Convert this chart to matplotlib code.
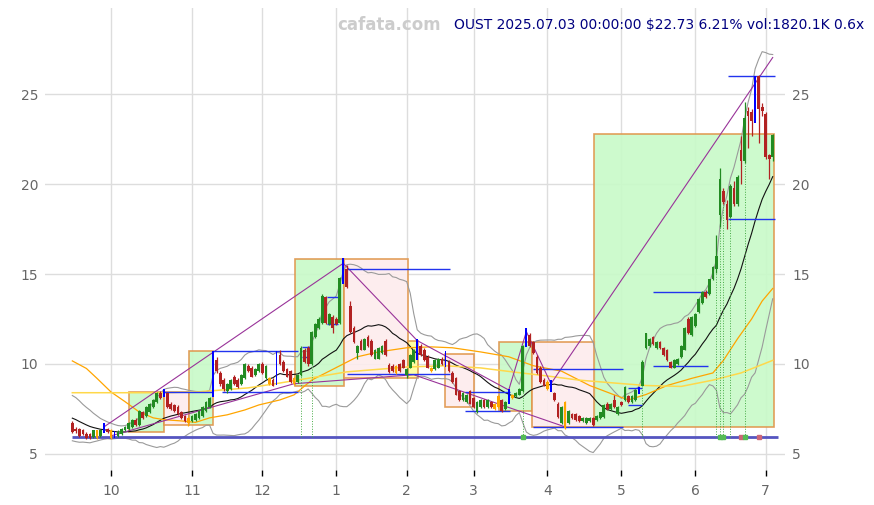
import numpy as np
import pandas as pd
import matplotlib
matplotlib.use("Agg")
import matplotlib.pyplot as plt
from matplotlib.patches import Rectangle

# OUST daily candles, trading days 2024-09-16 .. 2025-07-03 (index 0..199)
opens = [6.70, 6.40, 6.40, 6.30, 6.10, 6.10, 5.95, 5.90, 6.00, 6.20,
         6.40, 6.30, 5.95, 6.00, 6.10, 6.30, 6.40, 6.50, 6.90, 6.60,
         7.30, 7.10, 7.30, 7.60, 7.90, 8.40, 8.20, 8.40, 7.80, 7.70,
         7.60, 7.30, 7.10, 6.70, 6.80, 6.90, 7.00, 7.10, 7.40, 7.60,
         8.20, 10.20, 9.50, 9.10, 8.50, 8.60, 9.30, 9.10, 8.90, 9.20,
         9.90, 9.80, 9.40, 9.60, 10.00, 9.20, 8.90, 9.10, 8.90, 10.50,
         10.10, 9.70, 9.60, 9.20, 9.00, 9.40, 10.80, 10.90, 10.00, 11.50,
         12.00, 12.30, 13.70, 12.20, 12.60, 12.50, 12.30, 14.50, 15.30, 13.20,
         12.00, 10.60, 11.30, 10.80, 11.50, 11.30, 10.30, 10.30, 10.60, 11.30,
         9.95, 9.90, 9.50, 10.00, 10.20, 9.40, 9.80, 10.10, 10.50, 11.00,
         10.80, 10.40, 9.80, 9.70, 9.80, 10.30, 9.90, 10.10, 9.50, 9.20,
         8.50, 8.00, 7.90, 8.50, 8.10, 7.30, 7.60, 8.00, 7.60, 7.90,
         7.50, 7.60, 8.00, 7.50, 7.80, 8.10, 8.20, 8.30, 8.50, 11.00,
         11.60, 11.20, 10.40, 9.80, 9.10, 9.00, 9.00, 8.40, 7.80, 6.70,
         7.90, 6.70, 7.20, 7.20, 7.10, 6.80, 6.70, 6.80, 7.00, 6.90,
         7.00, 7.05, 7.80, 7.50, 8.00, 7.20, 7.90, 8.00, 8.20, 7.90,
         8.00, 8.40, 8.80, 10.90, 11.00, 11.50, 10.90, 11.20, 10.90, 10.80,
         10.10, 9.80, 10.00, 10.40, 10.80, 12.50, 11.60, 12.10, 12.90, 13.40,
         14.00, 13.90, 14.70, 15.30, 18.30, 19.60, 18.90, 18.20, 19.80, 18.90,
         21.90, 21.30, 24.10, 24.00, 23.70, 26.00, 24.30, 23.90, 21.60, 21.50]
highs = [6.85, 6.50, 6.45, 6.40, 6.20, 6.15, 6.35, 6.35, 6.40, 6.70,
         6.45, 6.40, 6.25, 6.30, 6.45, 6.55, 6.75, 6.95, 7.00, 7.45,
         7.40, 7.65, 7.85, 8.05, 8.45, 8.50, 8.60, 8.45, 7.90, 7.80,
         7.70, 7.40, 7.15, 7.05, 7.15, 7.25, 7.45, 7.65, 7.95, 8.15,
         10.70, 10.40, 9.60, 9.20, 8.95, 9.15, 9.40, 9.20, 9.45, 10.05,
         10.00, 9.90, 9.75, 10.05, 10.10, 9.95, 9.25, 9.20, 10.70, 10.80,
         10.20, 9.80, 9.65, 9.25, 9.45, 11.00, 10.90, 11.00, 11.85, 12.30,
         12.60, 13.90, 13.80, 12.85, 12.70, 12.60, 14.85, 15.90, 15.50, 13.50,
         12.10, 11.05, 11.40, 11.45, 11.60, 11.40, 10.85, 10.95, 11.05, 11.40,
         10.05, 10.00, 9.95, 10.05, 10.30, 9.75, 10.55, 10.85, 11.40, 11.10,
         10.90, 10.50, 9.85, 10.25, 10.35, 10.40, 10.70, 10.20, 9.60, 9.25,
         8.55, 8.45, 8.35, 8.55, 8.15, 7.95, 8.05, 8.05, 8.05, 7.95,
         7.85, 8.25, 8.05, 7.95, 8.60, 8.35, 8.45, 8.65, 11.05, 12.00,
         11.70, 11.30, 10.50, 9.90, 9.20, 9.10, 9.10, 8.45, 7.90, 7.65,
         7.95, 7.45, 7.25, 7.25, 7.15, 7.05, 7.05, 7.05, 7.05, 7.15,
         7.35, 7.75, 7.90, 7.85, 8.30, 7.65, 7.95, 8.75, 8.25, 8.25,
         8.60, 8.70, 10.20, 11.75, 11.45, 11.55, 11.25, 11.25, 10.95, 10.85,
         10.15, 10.25, 10.35, 11.05, 12.05, 12.60, 12.65, 12.85, 13.65, 14.05,
         14.10, 14.75, 15.45, 17.20, 20.90, 19.80, 19.10, 20.00, 20.20, 20.50,
         22.70, 24.60, 24.30, 24.20, 26.00, 26.10, 24.50, 24.00, 21.70, 22.80]
lows = [6.15, 6.15, 5.95, 6.05, 5.85, 5.85, 5.90, 5.85, 5.95, 6.15,
        6.15, 5.85, 5.90, 5.95, 6.05, 6.25, 6.35, 6.45, 6.55, 6.55,
        6.95, 7.05, 7.25, 7.55, 7.85, 8.05, 8.15, 7.55, 7.45, 7.35,
        7.15, 6.95, 6.75, 6.55, 6.75, 6.85, 6.95, 7.05, 7.35, 7.55,
        8.15, 9.50, 8.80, 8.50, 8.40, 8.55, 8.85, 8.65, 8.85, 9.15,
        9.55, 9.25, 9.35, 9.55, 9.45, 9.15, 8.85, 8.75, 8.85, 9.95,
        9.55, 9.25, 8.95, 8.85, 8.95, 9.35, 10.05, 9.90, 9.95, 11.45,
        11.95, 12.25, 12.25, 12.15, 11.70, 12.15, 12.25, 14.45, 14.25, 11.75,
        11.15, 10.30, 10.75, 10.75, 10.95, 10.45, 10.25, 10.25, 10.55, 10.45,
        9.50, 9.55, 9.45, 9.55, 9.75, 9.20, 9.75, 10.05, 10.20, 10.45,
        10.15, 9.75, 9.55, 9.65, 9.75, 9.95, 9.85, 9.55, 8.95, 8.25,
        7.95, 7.95, 7.85, 7.75, 7.55, 7.25, 7.55, 7.55, 7.55, 7.55,
        7.45, 7.55, 7.35, 7.45, 7.75, 8.05, 8.15, 8.25, 8.45, 10.95,
        10.95, 10.55, 9.45, 8.95, 8.75, 8.55, 8.45, 7.95, 7.00, 6.65,
        6.40, 6.65, 6.95, 6.85, 6.75, 6.75, 6.65, 6.75, 6.55, 6.85,
        6.95, 7.00, 7.45, 7.45, 7.55, 7.15, 7.65, 7.95, 7.85, 7.85,
        7.95, 8.35, 8.75, 10.85, 10.95, 11.05, 10.85, 10.85, 10.45, 10.15,
        9.75, 9.75, 9.95, 10.35, 10.75, 11.65, 11.55, 12.05, 12.85, 13.35,
        13.65, 13.85, 14.65, 15.05, 17.60, 18.90, 17.50, 18.10, 18.80, 18.80,
        20.00, 21.20, 22.00, 22.70, 23.40, 22.30, 23.80, 21.40, 20.30, 21.30]
closes = [6.20, 6.25, 6.00, 6.10, 5.90, 5.90, 6.30, 6.30, 6.30, 6.50,
          6.20, 5.90, 6.20, 6.20, 6.40, 6.50, 6.70, 6.90, 6.60, 7.40,
          7.00, 7.60, 7.80, 8.00, 8.40, 8.10, 8.55, 7.60, 7.50, 7.40,
          7.20, 7.00, 6.80, 7.00, 7.10, 7.20, 7.40, 7.60, 7.90, 8.10,
          10.60, 9.60, 8.90, 8.60, 8.90, 9.10, 8.90, 8.70, 9.40, 10.00,
          9.60, 9.30, 9.70, 10.00, 9.50, 9.90, 9.20, 8.80, 10.60, 10.00,
          9.60, 9.30, 9.00, 8.90, 9.40, 10.90, 10.10, 10.00, 11.80, 12.20,
          12.50, 13.80, 12.30, 12.80, 12.00, 12.20, 14.80, 15.60, 14.30, 11.80,
          11.20, 11.00, 10.80, 11.40, 11.00, 10.50, 10.80, 10.90, 11.00, 10.50,
          9.55, 9.60, 9.90, 9.60, 9.80, 9.70, 10.50, 10.80, 11.30, 10.50,
          10.20, 9.80, 9.60, 10.20, 10.30, 10.00, 10.40, 9.60, 9.00, 8.30,
          8.00, 8.40, 8.30, 7.80, 7.60, 7.90, 8.00, 7.60, 8.00, 7.60,
          7.80, 8.20, 7.40, 7.90, 8.55, 8.30, 8.40, 8.60, 11.00, 11.80,
          11.00, 10.60, 9.50, 9.00, 8.80, 8.60, 8.50, 8.00, 7.05, 7.60,
          6.45, 7.40, 7.00, 6.90, 6.80, 7.00, 7.00, 7.00, 6.60, 7.10,
          7.30, 7.70, 7.50, 7.80, 7.60, 7.60, 7.70, 8.70, 7.90, 8.20,
          8.55, 8.60, 10.10, 11.70, 11.40, 11.10, 11.20, 10.90, 10.50, 10.20,
          9.80, 10.20, 10.30, 11.00, 12.00, 11.70, 12.60, 12.80, 13.60, 14.00,
          13.70, 14.70, 15.40, 16.00, 20.30, 19.00, 18.00, 19.90, 18.90, 20.40,
          21.30, 23.70, 23.80, 23.50, 25.90, 24.20, 24.10, 21.50, 21.40, 22.73]
# 19 sessions before the first candle (needed for the 20-day band at the left edge)
hist_closes = [7.9, 8.1, 8.0, 7.8, 7.6, 7.5, 7.3, 7.2, 7.0, 6.9,
               6.8, 6.7, 6.6, 6.5, 6.4, 6.3, 6.4, 6.3, 6.2]

blue_idx = [9, 12, 26, 40, 58, 77, 98, 106, 124, 129, 136, 161, 194]
orange_idx = [7, 11, 33, 56, 63, 92, 102, 120, 121, 125, 135, 140]

month_pos = [11, 34, 54, 75, 95, 114, 135, 156, 177, 197]
month_lbl = ['10', '11', '12', '1', '2', '3', '4', '5', '6', '7']

# 50 and 200 day averages
ma50_x = [0, 4, 7, 11, 15, 19, 23, 26, 31, 35, 39, 44, 49, 53, 59, 63, 68, 75, 81, 87,
          95, 102, 108, 116, 124, 131, 139, 147, 154, 158, 163, 169, 176, 182, 185, 189,
          193, 196, 199]
ma50_y = [10.17, 9.75, 9.2, 8.44, 7.9, 7.33, 7.0, 6.9, 6.83, 6.75, 7.0, 7.17, 7.44, 7.72,
          8.0, 8.28, 9.1, 9.8, 10.4, 10.67, 10.9, 10.95, 10.9, 10.67, 10.4, 9.9, 9.6, 8.8,
          8.28, 8.0, 8.3, 8.8, 9.2, 9.5, 10.2, 11.4, 12.5, 13.5, 14.2]
ma200_x = [0, 26, 36, 50, 59, 78, 95, 106, 116, 125, 135, 144, 154, 163, 173, 182, 190, 199]
ma200_y = [8.4, 8.4, 8.45, 8.67, 8.94, 9.56, 9.83, 9.9, 9.78, 9.56, 9.33, 9.1, 8.94, 8.8,
           8.75, 9.1, 9.5, 10.2]

# boxes
box_x0 = [16.1, 26.1, 33.2, 63.3, 77.2, 95.3, 106.0, 121.2, 130.6, 148.3]
box_x1 = [26.1, 33.2, 40.1, 77.2, 95.3, 98.2, 114.1, 130.6, 148.5, 199.3]
box_lo = [6.2, 6.6, 6.6, 8.8, 9.2, 9.2, 7.6, 7.4, 6.5, 6.5]
box_hi = [8.46, 8.46, 10.72, 15.83, 15.83, 11.3, 10.55, 11.2, 11.2, 22.8]
box_kind = ['up', 'down', 'up', 'up', 'down', 'flat', 'down', 'up', 'down', 'up']

# blue levels
lev_x0 = [25.8, 40, 42.5, 65.3, 65.3, 72.4, 72.4, 78, 78, 111.5, 111.5, 131, 131,
          157.9, 157.9, 165, 165, 186.3, 186.3]
lev_x1 = [40, 64, 64, 68.1, 68.1, 75.5, 75.5, 107.3, 107.3, 124.3, 124.3, 156.4, 156.4,
          161.8, 161.8, 180.6, 180.6, 199.6, 199.6]
lev_y = [8.45, 10.7, 8.45, 10.95, 10.4, 13.7, 12.2, 15.3, 9.45, 8.45, 7.4, 9.7, 6.5,
         8.65, 7.7, 14.0, 9.9, 26.0, 18.05]

# trend lines
zig_x = [9, 77, 98, 124, 129, 136, 199]
zig_y = [6.5, 15.6, 11.3, 8.55, 11.8, 8.9, 27.05]
low_x = [11, 63, 97, 140]
low_y = [6.0, 8.9, 9.4, 6.5]
support = 5.95

sig_idx = [65, 68, 128, 162, 183, 184, 185, 187, 191]
mark_idx = [128, 184, 185, 190, 191, 195]
mark_col = ['g', 'g', 'g', 'r', 'g', 'r']

fig = plt.figure(figsize=(8.74, 5.05), dpi=100)
ax = fig.add_axes([0.0515, 0.0693, 0.8467, 0.9147])

o = np.array(opens); h = np.array(highs); l = np.array(lows); c = np.array(closes)
idx = np.arange(len(c))

# 20 day mean and bands
s = pd.Series(hist_closes + closes)
ma20 = s.rolling(20).mean().values[len(hist_closes):]
sd20 = s.rolling(20).std(ddof=0).values[len(hist_closes):]

box_fill = {'up': '#c8fac8', 'down': '#fdeced', 'flat': '#ffff99'}
for x0, x1, lo, hi, k in zip(box_x0, box_x1, box_lo, box_hi, box_kind):
    ax.add_patch(Rectangle((x0, lo), x1 - x0, hi - lo, facecolor=box_fill[k],
                           edgecolor='#e0954a', lw=1.2, alpha=0.9, zorder=1))

ax.plot(idx, ma20 + 2 * sd20, color='#9a9a9a', lw=0.8, zorder=2)
ax.plot(idx, ma20 - 2 * sd20, color='#9a9a9a', lw=0.8, zorder=2)
ax.plot(idx, ma20, color='#111111', lw=0.8, zorder=2)
ax.plot(ma50_x, ma50_y, color='#ffa500', lw=0.9, zorder=2)
ax.plot(ma200_x, ma200_y, color='#ffd84a', lw=1.1, zorder=2)

ax.plot(zig_x, zig_y, color='#993399', lw=0.8, zorder=3)
ax.plot(low_x, low_y, color='#993399', lw=0.8, zorder=3)
ax.hlines(lev_y, lev_x0, lev_x1, color='#2233ee', lw=1.0, zorder=3)
ax.hlines(support, 0, 200.5, color='#5555c0', lw=2, zorder=3)
ax.vlines(sig_idx, support, l[sig_idx], color='#44aa44', lw=0.7, linestyles=':', zorder=3)
for i, mc in zip(mark_idx, mark_col):
    ax.plot(i, support, 's', ms=3, color='#55bb55' if mc == 'g' else '#cc6677', zorder=4)

# candles
col = np.where(c >= o, '#228b22', '#b22222').astype(object)
col[orange_idx] = '#ffa500'
norm = np.array([i for i in idx if i not in blue_idx])
ax.vlines(norm, l[norm], h[norm], color=list(col[norm]), lw=0.9, zorder=4)
ax.bar(norm, np.maximum(np.abs(c - o)[norm], 0.04), bottom=np.minimum(o, c)[norm],
       width=0.78, color=list(col[norm]), zorder=5)
ax.bar(blue_idx, (h - l)[blue_idx], bottom=l[blue_idx], width=0.5, color='#0000ff', zorder=5)

ax.set_xlim(-7.76, 202.5)
ax.set_ylim(4.1, 29.8)
ax.set_xticks(month_pos)
ax.set_xticklabels(month_lbl)
ax.set_yticks([5, 10, 15, 20, 25])
ax.grid(color='#dddddd', lw=1)
ax.set_axisbelow(True)
for sp in ax.spines.values():
    sp.set_visible(False)
ax.tick_params(axis='x', length=4, width=1, color='black', labelcolor='#666666',
               labelsize=10, pad=6)
ax.tick_params(axis='y', length=0, labelcolor='#666666', labelsize=10,
               labelright=True, pad=5)

fig.text(0.445, 0.9505, 'cafata.com', ha='center', va='center', color='#cccccc',
         fontsize=12, fontweight='bold')
fig.text(0.519, 0.9505, 'OUST 2025.07.03 00:00:00 $22.73 6.21% vol:1820.1K 0.6x',
         ha='left', va='center', color='#000080', fontsize=10)

fig.savefig('out.png', dpi=100)
